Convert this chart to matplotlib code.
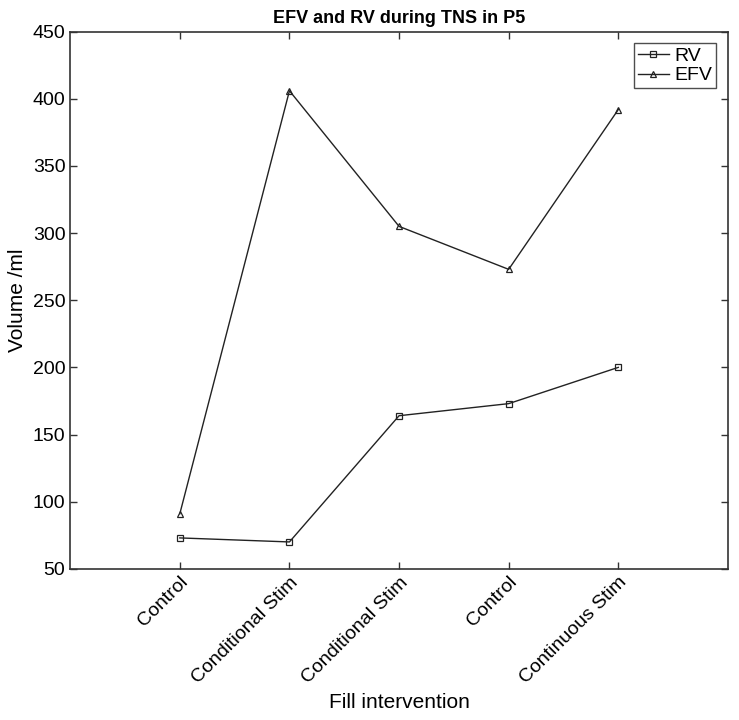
import matplotlib
matplotlib.use("Agg")
import matplotlib.pyplot as plt

plt.rcParams["font.family"] = ["Liberation Sans", "DejaVu Sans"]

# data
categories = ["Control", "Conditional Stim", "Conditional Stim", "Control", "Continuous Stim"]
rv = [73, 70, 164, 173, 200]
efv = [91, 406, 305, 273, 392]
y_ticks = [50, 100, 150, 200, 250, 300, 350, 400, 450]

fig = plt.figure(figsize=(7.39, 7.2), dpi=100)
ax = fig.add_axes([0.095, 0.21, 0.89, 0.746])

x = list(range(1, len(categories) + 1))
line_kw = dict(color="#222222", linewidth=1.0, markersize=5, markerfacecolor="none",
               markeredgewidth=0.9)
ax.plot(x, rv, marker="s", label="RV", **line_kw)
ax.plot(x, efv, marker="^", label="EFV", **line_kw)

ax.set_xlim(0, 6)
ax.set_ylim(50, 450)
ax.set_xticks(x)
ax.set_xticklabels(categories, rotation=45, ha="right", rotation_mode="anchor", fontsize=14)
ax.set_yticks(y_ticks)
ax.tick_params(axis="y", labelsize=14)
ax.tick_params(direction="in", top=True, right=True, length=5, width=1, color="#333333")
for s in ax.spines.values():
    s.set_color("#333333")
    s.set_linewidth(1.2)

ax.set_xlabel("Fill intervention", fontsize=15, labelpad=4)
ax.set_ylabel("Volume /ml", fontsize=15)
ax.set_title("EFV and RV during TNS in P5", fontsize=13, fontweight="bold", pad=6)

leg = ax.legend(loc="upper right", fontsize=14, frameon=True, fancybox=False,
                handlelength=1.6, handletextpad=0.3, borderpad=0.2, labelspacing=0.1,
                borderaxespad=0.6)
leg.get_frame().set_edgecolor("#222222")
leg.get_frame().set_linewidth(1.0)

fig.savefig("out.png", dpi=100)
